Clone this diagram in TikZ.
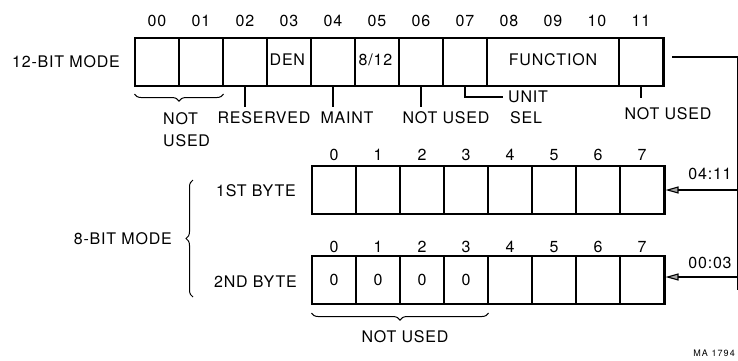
\documentclass[tikz,border=0pt]{standalone}
\usepackage{fontspec}
\setmainfont{TeX Gyre Heros}[LetterSpace=5]
\usetikzlibrary{arrows.meta,positioning,fit,calc,decorations.pathreplacing}

\begin{document}
\begin{tikzpicture}[x=1pt, y=-1pt,
  cell/.style={draw, line width=1.1pt, minimum width=44pt, minimum height=47pt, inner sep=0pt,
               font=\fontsize{16}{18}\selectfont},
  frame/.style={draw, line width=1.9pt, inner sep=0pt},
  lbl/.style={font=\fontsize{16}{22}\selectfont, inner sep=0pt},
  num/.style={font=\fontsize{16}{18}\selectfont, inner sep=0pt},
  tick/.style={line width=1.1pt},
  brc/.style={decorate, decoration={brace, mirror, amplitude=7pt}, line width=1pt},
  arr/.style={line width=1.1pt, -{Triangle[length=13pt,width=7pt,fill=gray!70]}}]
\useasboundingbox (0,0) rectangle (738,360);
% 12-bit mode word
\node[lbl, anchor=east] (m12) at (120,62) {12-BIT MODE};
\foreach \i in {0,...,7,11}
  \node[cell] (w\i) at ({157+44*\i},62) {};
\node[cell, minimum width=132pt] (func) at (553,62) {\raisebox{4pt}{FUNCTION}};
\node[frame, fit=(w0)(w11)] (reg12) {};
\node[lbl, anchor=west] (den) at ($(w3.west)+(3,-2)$) {DEN};
\node[lbl, anchor=west] (mode) at ($(w5.west)+(4,-2)$) {8/12};
\foreach \i/\t in {0/00,1/01,2/02,3/03,4/04,5/05,6/06,7/07,8/08,9/09,10/10,11/11}
  \node[num] (n\i) at ({157+44*\i},21) {\t};
% field notes
\draw[brc] ($(w0.south west)+(0,8)$) -- ($(w1.south east)+(0,8)$);
\node[lbl, align=left, anchor=north west] (nu0) at (163,112) {NOT\\USED};
\node[lbl] (res) at (264,118) {RESERVED};
\node[lbl] (maint) at (347,118) {MAINT};
\node[lbl] (nu6) at (446,118) {NOT USED};
\node[lbl, anchor=west, inner xsep=5pt] (unit) at (503,97) {UNIT};
\node[lbl, anchor=west] (sel) at (510,118) {SEL};
\node[lbl] (nu11) at (668,114) {NOT USED};
\draw[tick] (w2.south) -- ++(0,21);
\draw[tick] (w4.south) -- ++(0,21);
\draw[tick] (w6.south) -- ++(0,21);
\draw[tick] (w7.south) |- (unit.west);
\draw[tick] (w11.south) -- ++(0,12);
% 8-bit mode bytes
\node[lbl, anchor=east] (m8) at (172,239) {8-BIT MODE};
\node[lbl, anchor=east] (byte1) at (296,191) {1ST BYTE};
\node[lbl, anchor=east] (byte2) at (297,282) {2ND BYTE};
\draw[brc] (193,180) -- (193,297);
\foreach \i in {0,...,7} {
  \node[cell] (p\i) at ({334+44*\i},190) {};
  \node[cell] (q\i) at ({334+44*\i},280) {\ifnum\i<4 0\fi};
  \node[num] (s\i) at ({334+44*\i},155) {\i};
  \node[num] (t\i) at ({334+44*\i},247) {\i};
}
\node[frame, fit=(p0)(p7)] (r1) {};
\node[frame, fit=(q0)(q7)] (r2) {};
\draw[brc] ($(q0.south west)+(0,9)$) -- ($(q3.south east)+(0,9)$);
\node[lbl] (nu8) at (405,337) {NOT USED};
% transfer path
\coordinate (busin) at (672,57);
\coordinate (bus) at (737.3,57);
\coordinate (busend) at (737.3,290);
\draw[tick] (busin) -- (bus) -- (busend);
\draw[arr] (bus |- r1.east) -- (r1.east);
\draw[arr] ($(bus |- r2.east)+(0,-3)$) -- ($(r2.east)+(0,-3)$);
\node[num] (hi) at (710,174) {04:11};
\node[num] (lo) at (710,263) {00:03};
\node[anchor=east, inner sep=0pt, font=\fontsize{9}{10}\selectfont\addfontfeatures{LetterSpace=12}] (ma) at (735,353) {MA 1794};
\end{tikzpicture}
\end{document}
